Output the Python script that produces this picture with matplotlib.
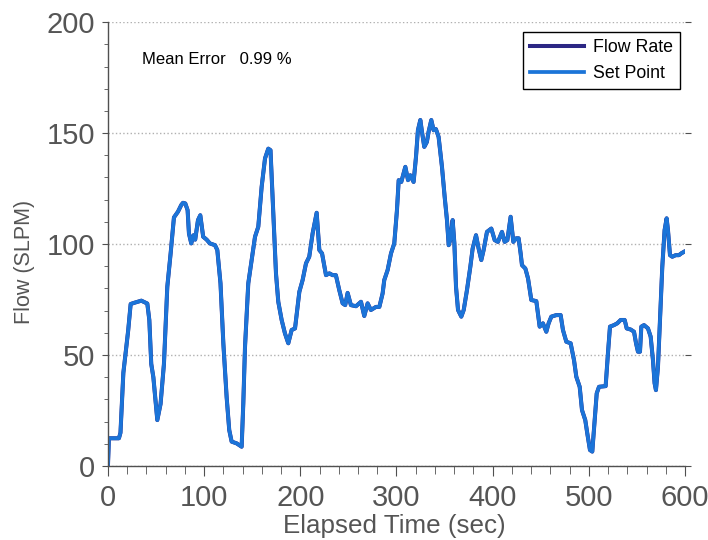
import matplotlib
matplotlib.use("Agg")
import matplotlib.pyplot as plt
from matplotlib.ticker import MultipleLocator

plt.rcParams['font.family'] = ['Liberation Sans', 'DejaVu Sans']

# elapsed time (sec) and set point (SLPM)
time_s = [0, 1, 11.4, 13, 16, 19.4, 21, 23.6, 27, 34.7, 40.9, 43, 45, 47.2, 51.3, 54.7,
          58.2, 61.7, 65.2, 68.6, 72.8, 76.2, 78, 80.4, 82.8, 84.2, 86.6, 89, 90.7, 93.6,
          96, 99, 102.6, 106, 111.3, 113.7, 117, 120, 123.4, 126.1, 128.6, 133.8, 139,
          140.7, 142.5, 145.9, 149.4, 152.9, 156.3, 159.8, 163.3, 166.7, 169, 171.9, 174.7,
          177.1, 180.6, 184, 187.5, 191, 194.5, 196.8, 199, 202.4, 205.9, 209.3, 212.8,
          217, 219.8, 222.6, 226.7, 230.2, 233.6, 237, 240.5, 244, 246.7, 249.2, 252.6,
          257.9, 263.1, 266.5, 270, 273.4, 278.7, 282.2, 285.6, 287.3, 290.8, 294.3, 297.7,
          300.5, 302.3, 305, 309.2, 312, 314.4, 317.8, 320.3, 322.3, 324.8, 326.5, 328.9,
          331.6, 333.4, 336.2, 338.6, 341, 343.8, 347.3, 350.1, 352.5, 354.3, 356, 358.4,
          360.2, 361.9, 364, 367.4, 369.9, 373.3, 376.8, 379.2, 382.7, 385.4, 388.2, 390.6,
          394.1, 398.6, 402.1, 405.5, 409.7, 412.5, 415.3, 418.7, 421.5, 424.6, 427, 429.1,
          430.5, 434, 436.8, 440.2, 445.4, 448.9, 452.3, 455.8, 458.2, 461, 466.2, 470.7,
          473.1, 476.6, 481.1, 484.6, 487, 490.5, 492.9, 496.3, 498.4, 501.2, 503.6, 506.1,
          508.2, 510.6, 517.5, 519.9, 522, 526.2, 529.6, 533.1, 537.3, 539.4, 543.5, 547,
          549.1, 551.1, 553.2, 554.6, 557.4, 561.5, 564.3, 566.7, 568.4, 569.8, 571.9, 574,
          576.4, 578.8, 580.9, 582.3, 584.4, 586.8, 590.3, 593.7, 596.1, 598.9]
set_point = [0.5, 12.5, 12.5, 15, 42, 55, 61, 73, 73.5, 74.5, 73.2, 65.8, 46, 40, 20.7, 28,
             46, 80.8, 96, 112, 114.6, 117.6, 118.6, 118.3, 115.3, 104.8, 100.3, 104, 102, 110.8,
             113, 103.3, 102, 100.3, 99.5, 97.3, 82.3, 55, 31, 16.2, 11, 10.2, 8.7,
             28, 53.7, 82.3, 92.8, 103.3, 107.8, 125.8, 138.6, 143, 142.3, 113.8, 86.8,
             74, 65.8, 59.8, 55.3, 61.3, 62, 70.3, 78.5, 83.8, 91.3, 94.3, 104.8,
             114.1, 97.3, 95.8, 86, 86.8, 86, 86, 79.3, 73.3, 72.5, 78, 72.5,
             72, 74, 67.6, 73.3, 70.3, 71.7, 71.7, 77.8, 83.8, 88.3, 95.8, 100.3,
             115.3, 128.8, 128, 134.8, 128.8, 131, 128, 139.3, 151.3, 155.9, 150.6, 143.8,
             146, 150.6, 155.9, 151.3, 151.8, 148.3, 134.8, 121.3, 110.8, 99.5, 102, 110.8,
             100.3, 80.8, 70.3, 67.3, 70.3, 79.3, 89.8, 98, 104, 98, 92.8, 97.3,
             105.5, 107, 101.8, 101, 105.5, 101, 101.8, 112.3, 101, 102.6, 102.6, 95.8,
             90.5, 89, 84.5, 74.8, 74.3, 62.8, 64.3, 60.5, 64.3, 67.3, 68, 68,
             61.3, 56, 55.3, 47.7, 40.2, 35.7, 25.2, 20.7, 14.7, 7.2, 6.5, 20.7,
             32.7, 35.7, 36, 50.8, 62.8, 63.5, 64.3, 65.8, 65.8, 62, 61.5, 60.5,
             55.3, 51.5, 51.5, 62.8, 63.5, 62, 58.3, 47.7, 37.3, 34.2, 44.7, 65.8,
             89.8, 106.3, 111.6, 106.3, 95, 94.3, 95, 95, 95.8, 96.5]
# measured flow tracks the set point almost exactly
flow_rate = set_point

text_gray = '#555555'

fig = plt.figure(figsize=(7.08, 5.4), dpi=100)
ax = fig.add_axes([0.1525, 0.137, 0.815, 0.822])

ax.plot(time_s, flow_rate, color='#2c2784', lw=2.9, label='Flow Rate', solid_joinstyle='round')
ax.plot(time_s, set_point, color='#1b74d8', lw=2.7, label='Set Point', solid_joinstyle='round')

ax.set_xlim(0, 600)
ax.set_ylim(0, 200)
ax.xaxis.set_major_locator(MultipleLocator(100))
ax.xaxis.set_minor_locator(MultipleLocator(20))
ax.yaxis.set_major_locator(MultipleLocator(50))
ax.yaxis.set_minor_locator(MultipleLocator(10))

ax.grid(axis='y', which='major', color='#b0b0b0', ls=':', lw=1.0)
ax.set_axisbelow(True)

for s in ['top', 'right']:
    ax.spines[s].set_visible(False)
for s in ['left', 'bottom']:
    ax.spines[s].set_color('#505050')
    ax.spines[s].set_linewidth(1.0)

ax.tick_params(axis='both', which='both', direction='out', colors='#505050',
               labelcolor=text_gray, labelsize=21)
ax.tick_params(axis='x', which='major', length=7, pad=6)
ax.tick_params(axis='x', which='minor', length=6)
ax.tick_params(axis='y', which='major', length=4, right=True, pad=5)
ax.tick_params(axis='y', which='minor', length=3)

ax.set_xlabel('Elapsed Time (sec)', fontsize=18.7, color=text_gray)
ax.set_ylabel('Flow (SLPM)', fontsize=15.5, color=text_gray)
ax.xaxis.set_label_coords(0.497, -0.108)
ax.yaxis.set_label_coords(-0.126, 0.46)

ax.text(0.059, 183, 'Mean Error   0.99 %', fontsize=12, va='center', ha='left',
        transform=ax.get_yaxis_transform())

leg = ax.legend(loc='upper right', bbox_to_anchor=(0.991, 0.977), fontsize=12.8,
                fancybox=False, framealpha=1, edgecolor='black', handlelength=3.0,
                handletextpad=0.5, labelspacing=0.5, borderpad=0.4, borderaxespad=0)
leg.get_frame().set_linewidth(1.0)

fig.savefig('out.png', dpi=100)
